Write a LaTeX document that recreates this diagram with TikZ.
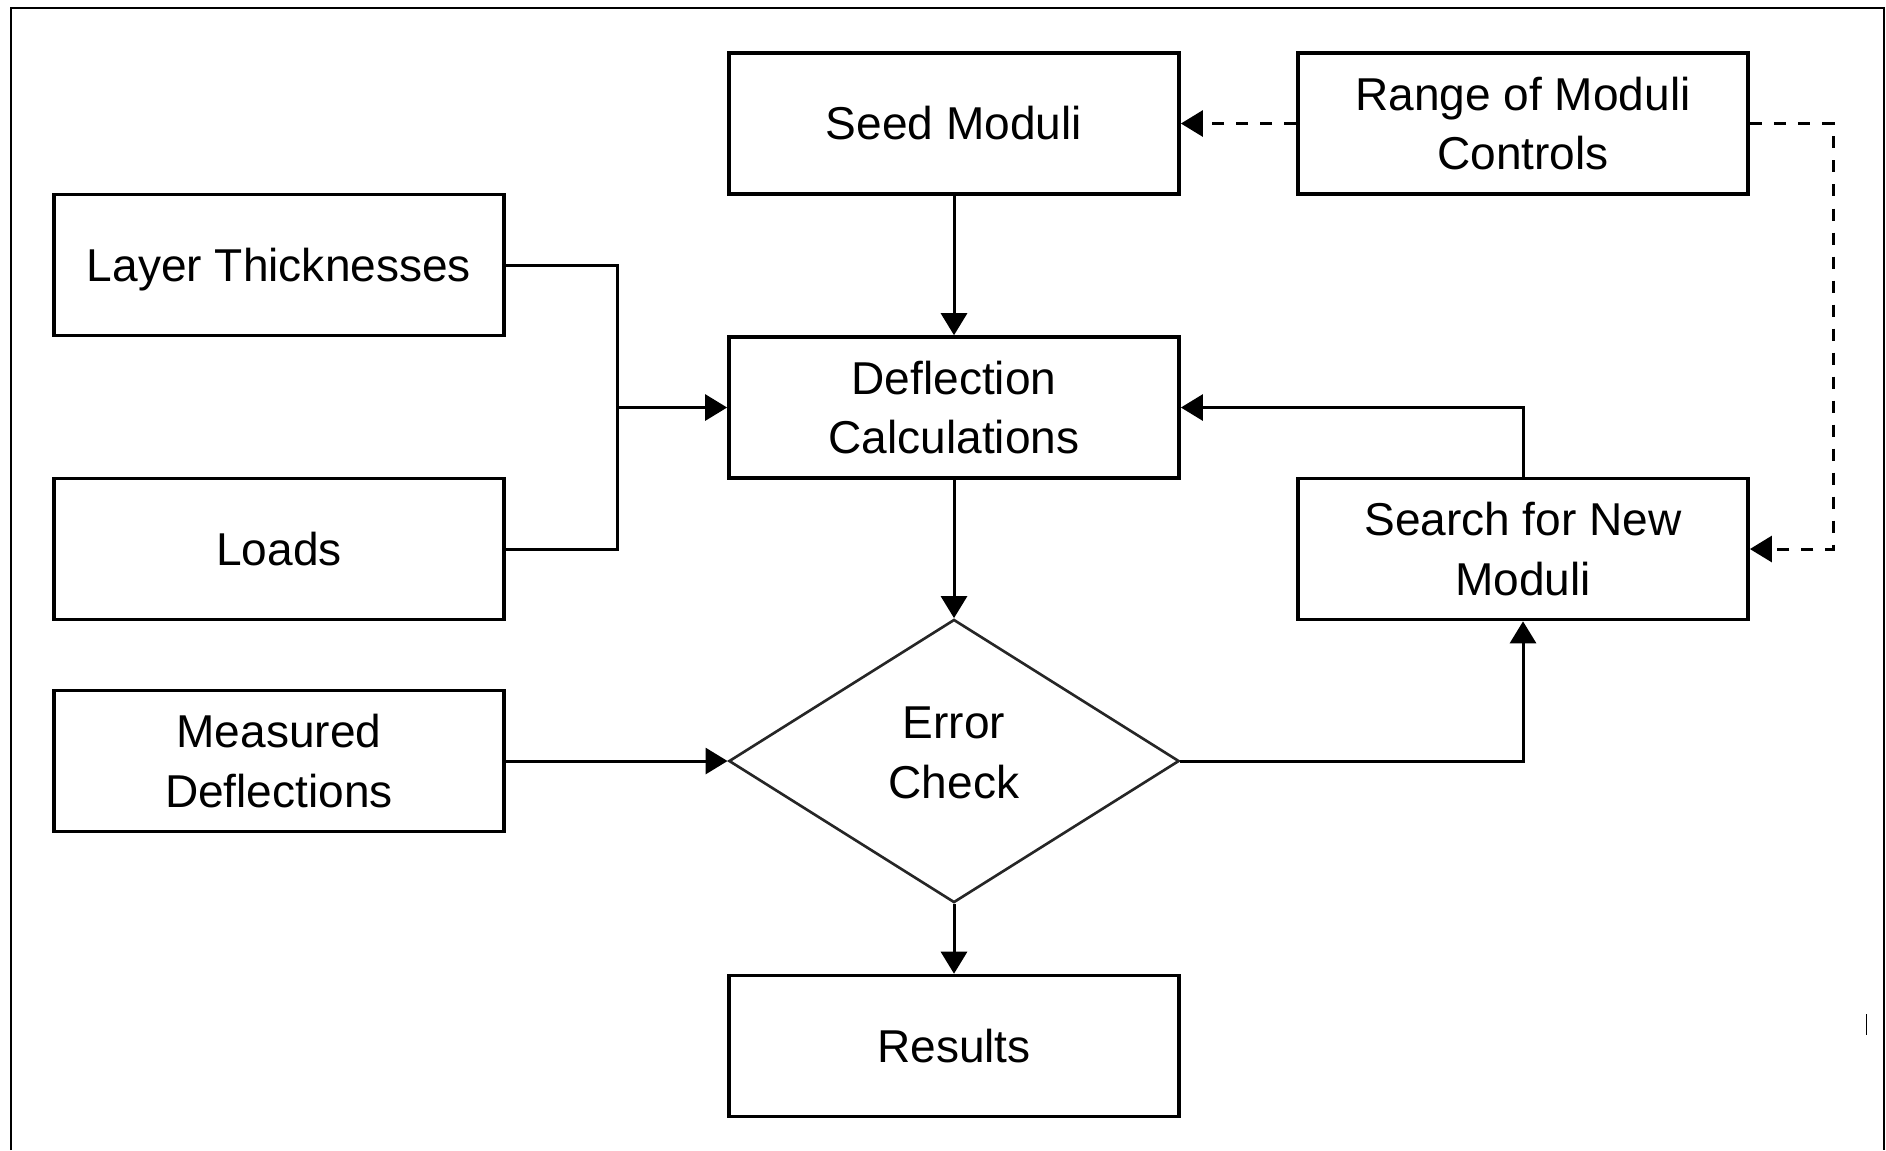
\documentclass[tikz,border=0pt]{standalone}
\usepackage{fontspec}
\setmainfont{Liberation Sans}
\usetikzlibrary{arrows.meta,shapes.geometric}

\tikzset{
  stepbox/.style={draw, line width=1pt, rectangle, minimum width=4.5cm,
    minimum height=1.41cm, inner sep=0pt, align=center,
    font=\fontsize{13.1pt}{17pt}\selectfont},
  decision/.style={draw=black!85, line width=0.75pt, diamond, minimum width=4.5cm,
    minimum height=2.83cm, inner sep=0pt, align=center, text depth=0.16cm,
    font=\fontsize{13.1pt}{17pt}\selectfont},
  flow/.style={line width=0.85pt, -{Triangle[width=0.26cm,length=0.22cm]}},
  link/.style={line width=0.85pt},
  dashflow/.style={flow, dash pattern=on 0.12cm off 0.12cm},
}

\begin{document}
\begin{tikzpicture}[x=0.01cm, y=-0.01cm]
  \useasboundingbox (0,0) rectangle (1886,1150);

  % open frame around the chart
  \draw[line width=0.6pt] (11,1150) -- (11,8) -- (1884,8) -- (1884,1150);
  \draw[line width=0.3pt] (1866,1014) -- (1866,1035);

  % process boxes
  \node[stepbox] (seed)    at (954,123.5)  {Seed Moduli};
  \node[stepbox] (range)   at (1523,123.5) {Range of Moduli\\Controls};
  \node[stepbox, text depth=0pt] (layer) at (279,265) {Layer Thicknesses};
  \node[stepbox] (defl)    at (954,407.5)  {Deflection\\Calculations};
  \node[stepbox] (loads)   at (279,549)    {Loads};
  \node[stepbox] (search)  at (1523,549)   {Search for New\\Moduli};
  \node[stepbox] (meas)    at (279,761)    {Measured\\Deflections};
  \node[decision] (err)    at (954,761)    {Error\\Check};
  \node[stepbox] (results) at (954,1046)   {Results};

  % routing points
  \coordinate (jn)   at (617,407.5);
  \coordinate (rail) at (1833,123.5);

  % inputs merging into the deflection calculation
  \draw[link] (layer.east) -| (jn) |- (loads.east);
  \draw[flow] (jn) -- (defl.west);

  % main flow
  \draw[flow] (seed) -- (defl);
  \draw[flow] (defl) -- (err.north);
  \draw[flow] (err.south) -- (results);
  \draw[flow] (meas.east) -- (err.west);

  % iteration loop
  \draw[flow] (err.east) -| (search.south);
  \draw[flow] (search.north) |- (defl.east);

  % moduli range controls
  \draw[dashflow] (range.west) -- (seed.east);
  \draw[dashflow] (range.east) -- (rail) |- (search.east);
\end{tikzpicture}
\end{document}
